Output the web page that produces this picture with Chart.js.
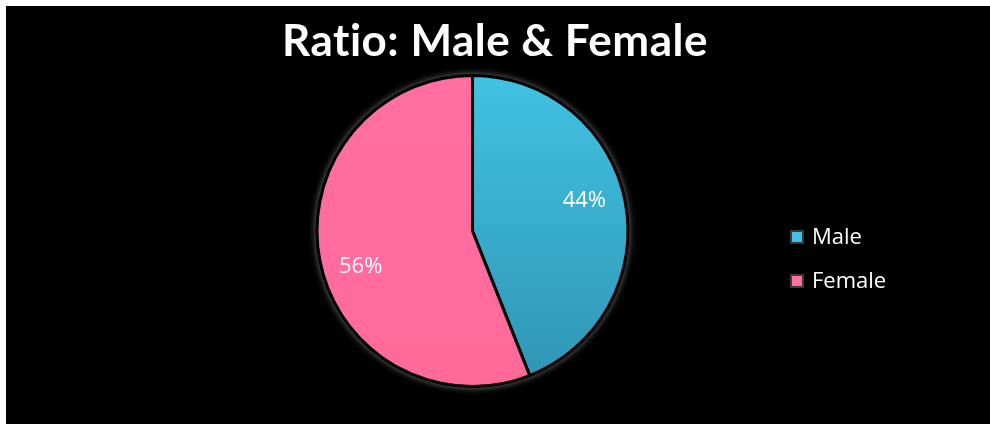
<!DOCTYPE html>
<html>
<head>
<meta charset="utf-8">
<title>Ratio: Male &amp; Female</title>
<script src="https://cdn.jsdelivr.net/npm/chart.js@4.4.1/dist/chart.umd.min.js"></script>
<style>
  html, body { margin: 0; padding: 0; background: #fff; }
  #wrap { position: absolute; left: 6px; top: 6px; width: 984px; height: 418px; background: #000; }
  #ratioChart { position: absolute; left: 0; top: 0; }
  h1 {
    position: absolute; left: 0; top: 17px; width: 990px; margin: 0;
    text-align: center; color: #fff;
    font: bold 44px/44px Lato, 'Liberation Sans', sans-serif;
    letter-spacing: 0.5px;
  }
</style>
</head>
<body>
<div id="wrap"><canvas id="ratioChart" width="984" height="418"></canvas></div>
<h1>Ratio: Male &amp; Female</h1>
<script>
const labels = ['Male', 'Female'];
const shares = [44, 56];

// slice shading, light at the top to darker at the bottom
const topColors = ['#42C2E2', '#FF6FA0'];
const bottomColors = ['#2F95B3', '#FF6A9B'];

const FONT = "'Open Sans', Lato, sans-serif";
Chart.defaults.font.family = FONT;
Chart.defaults.color = '#fff';

// soft grey rim behind the pie
const pieHalo = {
    id: 'pieHalo',
    beforeDatasetsDraw(chart) {
        const arc = chart.getDatasetMeta(0).data[0];
        if (!arc) return;
        const ctx = chart.ctx;
        ctx.save();
        ctx.shadowColor = 'rgba(150,150,150,0.85)';
        ctx.shadowBlur = 7;
        ctx.fillStyle = '#000';
        ctx.beginPath();
        ctx.arc(arc.x, arc.y, arc.outerRadius + 1, 0, Math.PI * 2);
        ctx.fill();
        ctx.restore();
    }
};

// percentage text inside each slice
const sliceLabels = {
    id: 'sliceLabels',
    afterDatasetsDraw(chart) {
        const ctx = chart.ctx;
        const values = chart.data.datasets[0].data;
        ctx.save();
        ctx.fillStyle = '#fff';
        ctx.font = '22px ' + FONT;
        ctx.textAlign = 'center';
        ctx.textBaseline = 'middle';
        chart.getDatasetMeta(0).data.forEach((arc, i) => {
            const mid = (arc.startAngle + arc.endAngle) / 2 - 0.1;
            const r = arc.outerRadius * 0.75;
            ctx.fillText(values[i] + '%', arc.x + Math.cos(mid) * r, arc.y + Math.sin(mid) * r + 3);
        });
        ctx.restore();
    }
};

// legend to the right of the pie
const sideLegend = {
    id: 'sideLegend',
    afterDraw(chart) {
        const ctx = chart.ctx;
        const left = 784, top = 231, step = 44;
        ctx.save();
        ctx.font = '22px ' + FONT;
        ctx.textBaseline = 'middle';
        chart.data.labels.forEach((label, i) => {
            const cy = top + i * step;
            ctx.fillStyle = '#3a3a3a';
            ctx.fillRect(left, cy - 7, 14, 14);
            ctx.fillStyle = topColors[i];
            ctx.fillRect(left + 2, cy - 5, 10, 10);
            ctx.fillStyle = '#fff';
            ctx.fillText(label, left + 22, cy + 1);
        });
        ctx.restore();
    }
};

new Chart(document.getElementById('ratioChart'), {
    type: 'pie',
    data: {
        labels: labels,
        datasets: [{
            data: shares,
            backgroundColor(c) {
                const area = c.chart.chartArea;
                if (!area) return topColors[c.dataIndex];
                const g = c.chart.ctx.createLinearGradient(0, area.top, 0, area.bottom);
                g.addColorStop(0, topColors[c.dataIndex]);
                g.addColorStop(1, bottomColors[c.dataIndex]);
                return g;
            },
            borderColor: '#000',
            borderWidth: 3
        }]
    },
    options: {
        responsive: false,
        animation: false,
        // room for the heading above, pie sits left of the legend
        layout: { padding: { left: 277, right: 328, top: 68, bottom: 36 } },
        plugins: {
            legend: { display: false },
            tooltip: { enabled: false },
            title: { display: false }
        }
    },
    plugins: [pieHalo, sliceLabels, sideLegend]
});
</script>
</body>
</html>
